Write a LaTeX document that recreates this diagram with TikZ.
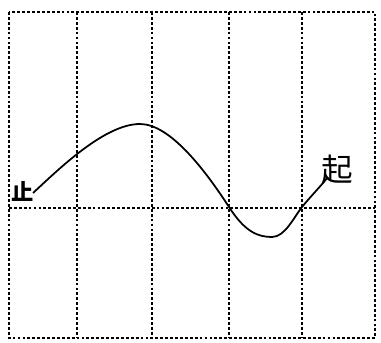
\documentclass[tikz,border=0pt]{standalone}
\usepackage{fontspec}
\newfontfamily\cjk{Noto Sans CJK SC}
\begin{document}
\begin{tikzpicture}[x=0.03cm,y=-0.03cm,
    gridline/.style={line width=1.9pt, dash pattern=on 2.4pt off 1.8pt},
    curve/.style={line width=1.5pt},
    every node/.style={font=\cjk, inner sep=0pt}]
                \useasboundingbox (0,0) rectangle (381,343);

                \coordinate (tl) at (9,12);
                \coordinate (br) at (375,338);
                \draw[gridline] (tl) rectangle (br);

                \coordinate (h1) at (9,208);
                \coordinate (h2) at (375,208);
                \draw[gridline] (h1) -- (h2);

                \foreach \x in {77,152,229,302} {
                    \coordinate (v1) at (\x,12);
                    \coordinate (v2) at (\x,338);
                    \draw[gridline] (v1) -- (v2);
                }

                \node[font=\cjk\bfseries\fontsize{19}{19}\selectfont] (zhi) at (23,191) {止};
                \node[font=\cjk\fontsize{27}{27}\selectfont] (qi) at (337,170) {起};

                \coordinate (s) at (33,193);
                \coordinate (peak) at (140,124);
                \coordinate (c1) at (229,207);
                \coordinate (trough) at (272,237);
                \coordinate (c2) at (302,207);
                \coordinate (e) at (328,177);
                \draw[curve] (s) .. controls (60,168) and (105,124) .. (peak)
                    .. controls (170,124) and (205,170) .. (c1)
                    .. controls (245,232) and (258,237) .. (trough)
                    .. controls (285,237) and (294,217) .. (c2)
                    .. controls (311,196) and (320,187) .. (e);
            \end{tikzpicture}
\end{document}
